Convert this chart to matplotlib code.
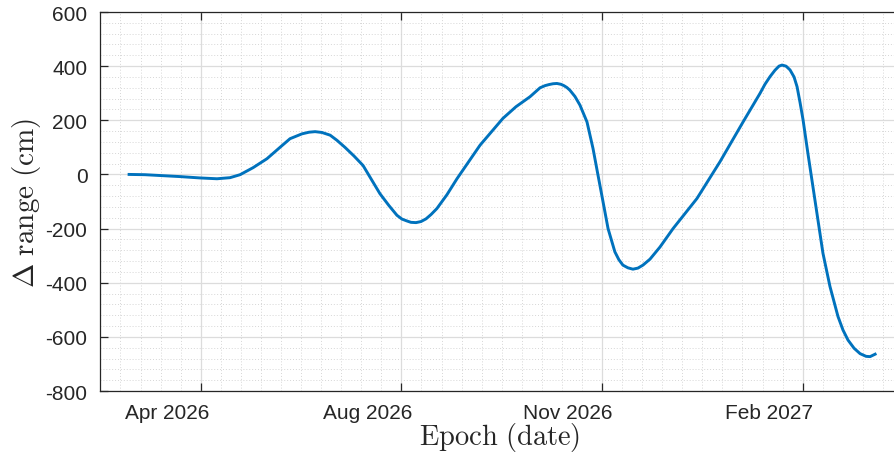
import numpy as np
import matplotlib
matplotlib.use('Agg')
import matplotlib.pyplot as plt
import matplotlib.transforms as mtransforms

# Reference epoch and tick dates (ticks every 100 days)
base_date = np.datetime64('2026-04-25')
tick_days = [0, 100, 200, 300]
tick_labels = ['Apr 2026', 'Aug 2026', 'Nov 2026', 'Feb 2027']

# Delta range (cm) vs days after base_date
days = [-35.7, -27.8, -20.3, -10.3, -0.3, 8.1, 14.6, 19.6, 26.1, 33.0,
        39.5, 44.5, 50.5, 54.0, 57.0, 60.4, 64.5, 67.9, 71.9, 76.4,
        80.9, 89.3, 93.8, 97.8, 100.3, 102.8, 104.8, 107.3, 109.8, 112.3,
        114.8, 117.7, 122.7, 127.7, 139.2, 150.6, 157.1, 164.1, 169.1, 171.6,
        173.6, 175.6, 177.5, 179.5, 181.0, 182.5, 184.0, 186.5, 189.0, 192.5,
        195.5, 198.0, 200.5, 203.0, 206.4, 208.4, 210.4, 212.9, 215.4, 217.9,
        220.4, 223.9, 228.9, 235.4, 247.3, 258.8, 270.3, 278.7, 281.2, 283.7,
        286.2, 288.2, 289.7, 291.7, 293.7, 295.7, 297.2, 298.7, 300.2, 302.6,
        305.1, 307.6, 310.1, 313.6, 317.6, 320.1, 322.6, 325.6, 328.6, 331.6,
        333.6, 336.1]
delta_range = [0, -1, -4, -8, -13, -16, -12, -1, 25, 58,
               100, 132, 150, 156, 158, 155, 145, 126, 100, 68,
               33, -71, -115, -151, -165, -172, -177, -178, -174, -164,
               -148, -126, -75, -16, 108, 207, 250, 287, 320, 328,
               332, 335, 336, 333, 328, 321, 311, 288, 256, 194,
               96, -3, -101, -200, -286, -315, -335, -345, -350, -346,
               -335, -313, -268, -200, -89, 47, 194, 299, 333, 361,
               385, 400, 404, 400, 386, 360, 324, 265, 201, 78,
               -45, -168, -291, -414, -525, -575, -612, -642, -662, -672,
               -673, -664]

def to_dates(d):
    return base_date + (np.array(d) * 86400).astype('timedelta64[s]')

plt.rcParams['font.family'] = ['Liberation Sans', 'DejaVu Sans']
plt.rcParams['mathtext.fontset'] = 'cm'
plt.rcParams['axes.unicode_minus'] = False

fig = plt.figure(figsize=(8.95, 4.56), dpi=100)
ax = fig.add_axes([100 / 895, (456 - 392) / 456, 800 / 895, 379 / 456])

ax.plot(to_dates(days), delta_range, color='#0072BD', linewidth=2.1,
        solid_joinstyle='round')

ax.set_xlim(to_dates([-50.2, 348.5]))
ax.set_ylim(-800, 600)
ax.set_yticks(np.arange(-800, 601, 200))
ax.set_yticks(np.arange(-800, 601, 40), minor=True)
ax.set_xticks(to_dates(tick_days))
ax.set_xticklabels(tick_labels)
ax.set_xticks(to_dates(np.arange(-50, 350, 10)), minor=True)

ax.grid(which='major', color='#dcdcdc', linewidth=0.9, linestyle='-')
ax.grid(which='minor', color='#d6d6d6', linewidth=0.7, linestyle=(0, (1, 2)))
ax.set_axisbelow(True)

ax.tick_params(which='major', direction='in', length=6, width=0.9,
               colors='#262626', labelsize=15, top=True, pad=9)
ax.tick_params(which='minor', length=0)
for s in ['left', 'bottom', 'top']:
    ax.spines[s].set_color('#262626')
    ax.spines[s].set_linewidth(0.9)
ax.spines['right'].set_visible(False)

# MATLAB-style labels sit left of their ticks
offset = mtransforms.ScaledTranslation(-0.34, 0, fig.dpi_scale_trans)
for lbl in ax.get_xticklabels():
    lbl.set_transform(lbl.get_transform() + offset)

ax.set_xlabel(r'$\mathrm{Epoch\ (date)}$', fontsize=20.5, color='#262626', labelpad=-2)
ax.set_ylabel(r'$\Delta\ \mathrm{range\ (cm)}$', fontsize=21, color='#262626', labelpad=2)

fig.savefig('out.png', dpi=100)
